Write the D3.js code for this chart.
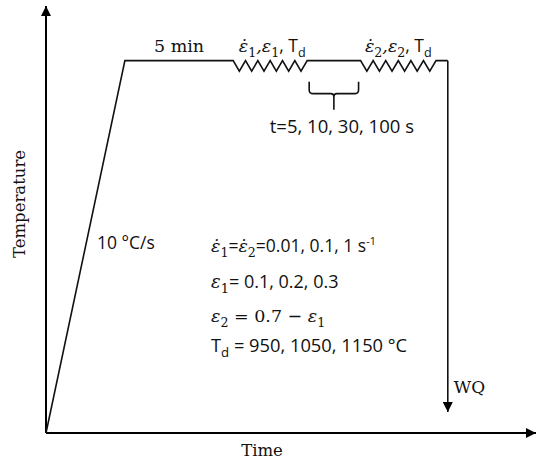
<!DOCTYPE html>
<html><head><meta charset="utf-8">
<script src="https://cdn.jsdelivr.net/npm/d3@7"></script>
<style>body{margin:0;background:#fff}svg{display:block}</style>
</head><body><svg id="chart" width="538" height="461"></svg>
<script>
// Thermomechanical schedule in schematic units (time 0–100, temperature 0–100)
const stageNames = ["start", "heated", "soaked", "pass1", "interpass", "pass2", "quench"];
const stageTimes = [0, 16.1, 38.2, 53.3, 64.2, 79.6, 82.0];
const stageTemps = [0, 87, 87, 87, 87, 87, 87];
const deformedStages = ["pass1", "pass2"];
const quenchTemp = 4.9;
const teethPerPass = 6;

const axisLabels = { x: "Time", y: "Temperature" };
const heatingRate = "10 °C/s";
const soakLabel = "5 min";
const interpassTimes = ["5", "10", "30", "100"];
const strainRates = ["0.01", "0.1", "1"];
const firstStrains = ["0.1", "0.2", "0.3"];
const totalStrain = "0.7";
const deformTemps = ["950", "1050", "1150"];
const quenchLabel = "WQ";

const svg = d3.select("#chart");
const x = d3.scaleLinear().domain([0, 100]).range([46, 536]);
const y = d3.scaleLinear().domain([0, 100]).range([433, 5]);

const serif = "'DejaVu Serif', serif";
const sans = "'Open Sans', 'Noto Sans', sans-serif";

// arrowhead marker
svg.append("defs").append("marker")
  .attr("id", "arrow").attr("viewBox", "0 0 10 10")
  .attr("refX", 10).attr("refY", 5)
  .attr("markerWidth", 11).attr("markerHeight", 10)
  .attr("markerUnits", "userSpaceOnUse")
  .attr("orient", "auto")
  .append("path").attr("d", "M0,0L10,5L0,10Z").attr("fill", "#000");

// axes
svg.append("line")
  .attr("x1", x(0)).attr("y1", y(0)).attr("x2", x(0)).attr("y2", y(100) + 1)
  .attr("stroke", "#000").attr("stroke-width", 2).attr("marker-end", "url(#arrow)");
svg.append("line")
  .attr("x1", x(0)).attr("y1", y(0)).attr("x2", x(100)).attr("y2", y(0))
  .attr("stroke", "#000").attr("stroke-width", 2).attr("marker-end", "url(#arrow)");

// temperature path, with a saw-tooth on each deformation pass
const amp = 10.5; // px
const pts = [[x(stageTimes[0]), y(stageTemps[0])]];
for (let i = 1; i < stageNames.length; i++) {
  const x0 = x(stageTimes[i - 1]), x1 = x(stageTimes[i]);
  const yy = y(stageTemps[i]);
  if (deformedStages.includes(stageNames[i])) {
    const w = (x1 - x0) / teethPerPass;
    for (let k = 0; k < teethPerPass; k++) {
      pts.push([x0 + w * (k + 0.5), yy + amp]);
      pts.push([x0 + w * (k + 1), yy]);
    }
  } else {
    pts.push([x1, yy]);
  }
}
svg.append("path")
  .attr("d", d3.line()(pts))
  .attr("fill", "none").attr("stroke", "#111").attr("stroke-width", 1.6)
  .attr("stroke-linejoin", "miter");

// quench drop
const last = stageTimes.length - 1;
svg.append("line")
  .attr("x1", x(stageTimes[last])).attr("y1", y(stageTemps[last]))
  .attr("x2", x(stageTimes[last])).attr("y2", y(quenchTemp))
  .attr("stroke", "#111").attr("stroke-width", 1.6).attr("marker-end", "url(#arrow)");

// brace under the interpass hold
const bx0 = x(stageTimes[3]) + 2, bx1 = x(stageTimes[4]) - 2;
const bc = (bx0 + bx1) / 2;
const bt = y(stageTemps[3]) + 21, bm = bt + 12, bb = bt + 28;
svg.append("path")
  .attr("d", `M${bx0},${bt} L${bx0},${bm - 4} Q${bx0},${bm} ${bx0 + 4},${bm}` +
             ` L${bc - 3},${bm} Q${bc},${bm} ${bc},${bm + 3} L${bc},${bb}` +
             ` M${bc},${bm + 3} Q${bc},${bm} ${bc + 3},${bm} L${bx1 - 4},${bm}` +
             ` Q${bx1},${bm} ${bx1},${bm - 4} L${bx1},${bt}`)
  .attr("fill", "none").attr("stroke", "#111").attr("stroke-width", 1.6);

// rich text helper: parts are [text, kind]
function rich(px, py, parts, size, anchor) {
  const t = svg.append("text").attr("x", px).attr("y", py)
    .attr("font-size", size).attr("text-anchor", anchor || "start").attr("fill", "#111");
  let off = 0;
  parts.forEach(([s, kind]) => {
    const ts = t.append("tspan").text(s);
    let target = 0;
    if (kind.includes("sub")) { target = size * 0.28; ts.attr("font-size", size * 0.72); }
    if (kind.includes("sup")) { target = -size * 0.38; ts.attr("font-size", size * 0.62); }
    if (kind.includes("m")) ts.attr("font-family", serif).attr("font-style", kind.includes("up") ? "normal" : "italic");
    else if (kind.includes("r")) ts.attr("font-family", serif);
    else ts.attr("font-family", sans);
    if (target !== off) { ts.attr("dy", target - off); off = target; }
  });
  return t;
}

const epsDot = "\u03B5\u0307", eps = "\u03B5";

// stage labels along the top
rich((x(stageTimes[1]) + x(stageTimes[2])) / 2, 52, [[soakLabel, "r"]], 17.5, "middle");
rich((x(stageTimes[2]) + x(stageTimes[3])) / 2 + 2, 52,
  [[epsDot, "m"], ["1", "m up sub"], [",", "m"], [eps, "m"], ["1", "m up sub"], [", T", "n"], ["d", "sub"]], 17.5, "middle");
rich((x(stageTimes[4]) + x(stageTimes[5])) / 2, 52,
  [[epsDot, "m"], ["2", "m up sub"], [",", "m"], [eps, "m"], ["2", "m up sub"], [", T", "n"], ["d", "sub"]], 17.5, "middle");
rich(bc + 8, 133, [["t=" + interpassTimes.join(", ") + " s", "n"]], 18.5, "middle");

// heating rate
rich(97, 249, [[heatingRate, "n"]], 17.5);

// parameter block
const px0 = 211;
rich(px0, 252, [[epsDot, "m"], ["1", "m up sub"], ["=", "n"], [epsDot, "m"], ["2", "m up sub"],
  ["=" + strainRates.join(", ") + " s", "n"], ["-1", "sup"]], 17.5);
rich(px0, 288, [[eps, "m"], ["1", "m up sub"], ["= " + firstStrains.join(", "), "n"]], 18);
rich(px0, 322, [[eps, "m"], ["2", "m up sub"], [" = " + totalStrain + " \u2212 ", "m up"], [eps, "m"], ["1", "m up sub"]], 17.5);
rich(px0, 352, [["T", "n"], ["d", "sub"], [" = " + deformTemps.join(", ") + " °C", "n"]], 18.3);

// quench label
rich(x(stageTimes[last]) + 6, 393, [[quenchLabel, "r"]], 17);

// axis titles
rich(262, 456, [[axisLabels.x, "r"]], 16.5, "middle");
svg.append("text")
  .attr("transform", "translate(25,204) rotate(-90)")
  .attr("text-anchor", "middle").attr("font-family", serif).attr("font-size", 16.5)
  .attr("fill", "#111").text(axisLabels.y);
</script></body></html>
